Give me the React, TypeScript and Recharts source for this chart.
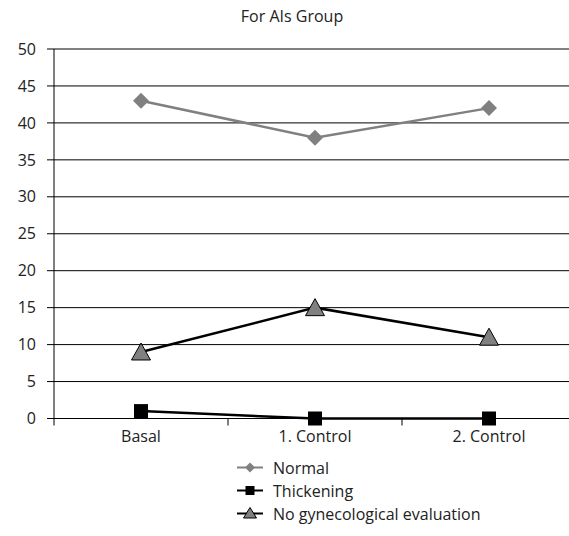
import React from 'react';
import { LineChart, Line, XAxis, YAxis, CartesianGrid, Legend } from 'recharts';

const categories = ['Basal', '1. Control', '2. Control'];
const normalValues = [43, 38, 42];
const thickeningValues = [1, 0, 0];
const noEvalValues = [9, 15, 11];
const yTicks = [0, 5, 10, 15, 20, 25, 30, 35, 40, 45, 50];

const FONT = '"Open Sans", sans-serif';

// positions in the middle of each category band, boundaries on integers
const data = categories.map((name, i) => ({
  pos: i + 0.5,
  name,
  normal: normalValues[i],
  thickening: thickeningValues[i],
  noEval: noEvalValues[i],
}));

const Diamond = ({ cx, cy }: any) => {
  if (cx == null || cy == null) return null;
  const r = 8;
  return <path d={`M${cx},${cy - r}L${cx + r},${cy}L${cx},${cy + r}L${cx - r},${cy}Z`} fill="#808080" />;
};

const Square = ({ cx, cy }: any) => {
  if (cx == null || cy == null) return null;
  return <rect x={cx - 7} y={cy - 7} width={14} height={14} fill="#000" />;
};

const Triangle = ({ cx, cy }: any) => {
  if (cx == null || cy == null) return null;
  return (
    <path
      d={`M${cx},${cy - 9}L${cx + 9.5},${cy + 8}L${cx - 9.5},${cy + 8}Z`}
      fill="#808080"
      stroke="#000"
      strokeWidth={1}
    />
  );
};

const XTick = ({ x, y, payload }: any) => {
  const v = payload.value;
  if (Number.isInteger(v)) {
    return <line x1={x} x2={x} y1={y - 8} y2={y - 1} stroke="#000" strokeWidth={1} />;
  }
  return (
    <text x={x} y={y + 15} textAnchor="middle" fill="#222" fontSize={16} fontFamily={FONT}>
      {categories[Math.floor(v)]}
    </text>
  );
};

const legendItems = [
  { label: 'Normal', color: '#808080', marker: 'diamond' },
  { label: 'Thickening', color: '#000', marker: 'square' },
  { label: 'No gynecological evaluation', color: '#000', marker: 'triangle' },
];

const LegendContent = () => (
  <div style={{ fontFamily: FONT, fontSize: 16, color: '#222' }}>
    {legendItems.map(item => (
      <div key={item.label} style={{ display: 'flex', alignItems: 'center', height: 23 }}>
        <svg width={36} height={23} style={{ flex: 'none' }}>
          <line x1={0} x2={26} y1={11.5} y2={11.5} stroke={item.color} strokeWidth={2} />
          {item.marker === 'diamond' && <path d="M13,6.5L18,11.5L13,16.5L8,11.5Z" fill="#808080" />}
          {item.marker === 'square' && <rect x={8.5} y={7} width={9} height={9} fill="#000" />}
          {item.marker === 'triangle' && <path d="M13,5.5L19.5,16L6.5,16Z" fill="#808080" stroke="#000" />}
        </svg>
        <span>{item.label}</span>
      </div>
    ))}
  </div>
);

export default function App() {
  return (
    <div style={{ position: 'absolute', left: 0, top: 0, width: 569, height: 536, overflow: 'hidden', background: '#fff' }}>
      <div
        style={{
          position: 'absolute',
          top: 5,
          left: 0,
          width: 584,
          textAlign: 'center',
          fontFamily: FONT,
          fontSize: 16,
          color: '#222',
        }}
      >
        For AIs Group
      </div>
      <LineChart
        width={600}
        height={536}
        data={data}
        margin={{ top: 49, right: 24, left: 0, bottom: 87.5 }}
      >
        <CartesianGrid vertical={false} stroke="#000" strokeWidth={1} />
        <XAxis
          dataKey="pos"
          type="number"
          domain={[0, 3]}
          ticks={[0, 0.5, 1, 1.5, 2, 2.5, 3]}
          interval={0}
          tickLine={false}
          axisLine={{ stroke: '#000' }}
          tick={<XTick />}
          height={30}
        />
        <YAxis
          domain={[0, 50]}
          ticks={yTicks}
          interval={0}
          width={54}
          tickSize={7}
          tickMargin={11}
          axisLine={{ stroke: '#000' }}
          tickLine={{ stroke: '#000' }}
          tick={{ fill: '#222', fontSize: 16, fontFamily: FONT }}
        />
        <Line
          dataKey="normal"
          stroke="#808080"
          strokeWidth={2.5}
          dot={<Diamond />}
          activeDot={false}
          isAnimationActive={false}
        />
        <Line
          dataKey="thickening"
          stroke="#000"
          strokeWidth={2.5}
          dot={<Square />}
          activeDot={false}
          isAnimationActive={false}
        />
        <Line
          dataKey="noEval"
          stroke="#000"
          strokeWidth={2.5}
          dot={<Triangle />}
          activeDot={false}
          isAnimationActive={false}
        />
        <Legend
          layout="vertical"
          align="center"
          verticalAlign="middle"
          content={<LegendContent />}
          wrapperStyle={{ position: 'absolute', left: 237, top: 456, width: 320 }}
        />
      </LineChart>
    </div>
  );
}
